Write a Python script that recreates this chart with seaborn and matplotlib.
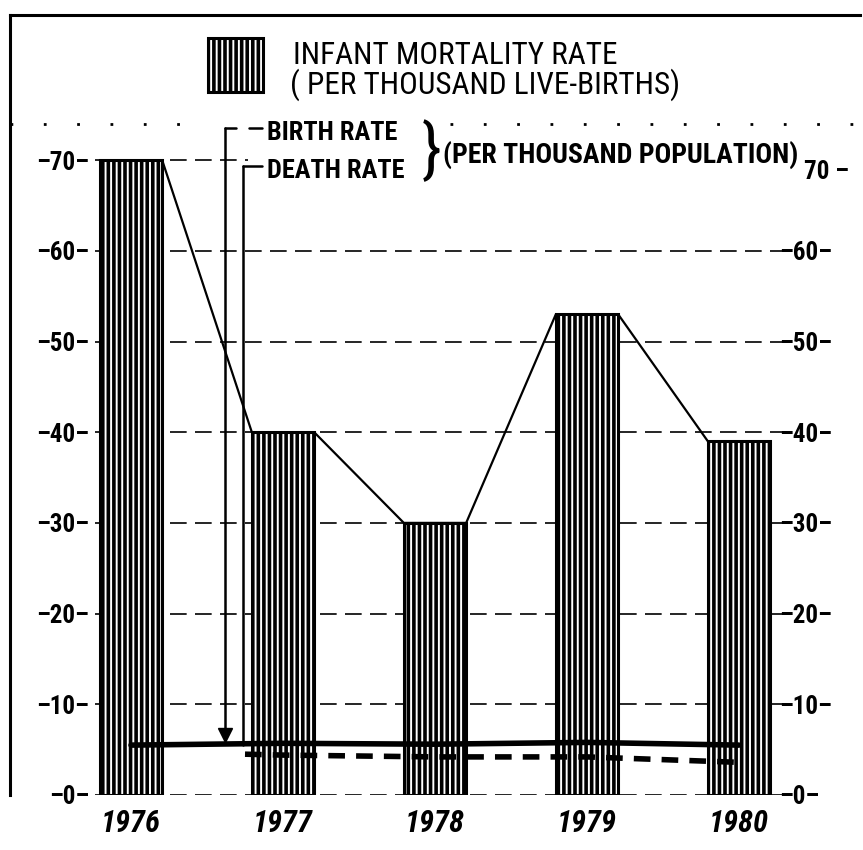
import numpy as np
import pandas as pd
import seaborn as sns
import matplotlib.pyplot as plt
from matplotlib.patches import Rectangle
from matplotlib.transforms import ScaledTranslation

# data
years = ["1976", "1977", "1978", "1979", "1980"]
infant_mortality = [70, 40, 30, 53, 39]
birth_rate = [5.5, 5.7, 5.6, 5.8, 5.5]
death_years = [0.75, 1, 2, 3, 4]
death_rate = [4.5, 4.4, 4.2, 4.2, 3.6]
ticks = [0, 10, 20, 30, 40, 50, 60, 70]

W, H = 863, 850
BAR_W = 0.41

sns.set_style("white")
plt.rcParams['font.family'] = ['Liberation Sans Narrow', 'DejaVu Sans Condensed',
                               'Roboto Condensed', 'DejaVu Sans']
plt.rcParams['text.color'] = 'black'
plt.rcParams['xtick.color'] = 'black'
plt.rcParams['ytick.color'] = 'black'
plt.rcParams['hatch.linewidth'] = 2.6


def px(x, y):
    """Figure pixel -> figure fraction."""
    return x / W, 1 - y / H


fig = plt.figure(figsize=(W / 100, H / 100), dpi=100)
ax = fig.add_axes([10 / W, (H - 795) / H, 850 / W, 780 / H])

df = pd.DataFrame({"year": years, "imr": infant_mortality})
sns.barplot(data=df, x="year", y="imr", ax=ax, width=BAR_W,
            color="white", edgecolor="black", linewidth=2.2, zorder=2)
for p in ax.patches:
    p.set_hatch("|||")

ax.set_xlim(-0.796, 4.796)
ax.set_ylim(0, 86)

# line joining bar tops
lx, ly = [], []
for i, v in enumerate(infant_mortality):
    lx += [i - BAR_W / 2, i + BAR_W / 2]
    ly += [v, v]
ax.plot(lx, ly, color="black", lw=1.6, zorder=3)

# birth / death rate
sns.lineplot(x=np.arange(len(years)), y=birth_rate, ax=ax, color="black",
             lw=4, zorder=4)
ax.plot(death_years, death_rate, color="black", lw=4, ls=(0, (3, 2)), zorder=4)

# dashed guide lines
for t in ticks[:-1]:
    ax.axhline(t, xmin=0.1, xmax=0.92, color="black", lw=1.2,
               ls=(0, (10, 5)), zorder=1)
ax.axhline(70, xmin=0.1, xmax=0.28, color="black", lw=1.2,
           ls=(0, (10, 5)), zorder=1)
ax.axhline(74, xmin=0.0, xmax=0.218, color="black", lw=2, ls=(0, (1, 11)))
ax.axhline(74, xmin=0.518, xmax=1.0, color="black", lw=2, ls=(0, (1, 11)))

# axes styling
for s in ["right", "bottom"]:
    ax.spines[s].set_visible(False)
for s in ["left", "top"]:
    ax.spines[s].set_linewidth(2.2)
    ax.spines[s].set_color("black")

ax.set_yticks(ticks, [f"–{t}–" for t in ticks])
ax.tick_params(axis="y", length=0, pad=-57, labelsize=18)
for lab in ax.get_yticklabels():
    lab.set_fontweight("bold")
ax.set_xlabel("")
ax.set_ylabel("")
ax.tick_params(axis="x", length=0, pad=10, labelsize=22)
for lab in ax.get_xticklabels():
    lab.set_fontweight("bold")
    lab.set_fontstyle("italic")

ax2 = ax.twinx()
ax2.set_ylim(ax.get_ylim())
ax2.set_yticks(ticks, [f"–{t}–" for t in ticks[:-1]] + [f"{ticks[-1]} –"])
ax2.tick_params(axis="y", length=0, pad=-58, labelsize=18)
for lab in ax2.get_yticklabels():
    lab.set_fontweight("bold")
top_lab = ax2.get_yticklabels()[-1]
top_lab.set_transform(top_lab.get_transform()
                      + ScaledTranslation(18 / 72, -7 / 72, fig.dpi_scale_trans))
for s in ax2.spines.values():
    s.set_visible(False)

# legend block
x0, y0 = px(208, 92)
rect = Rectangle((x0, y0), 55 / W, 54 / H, transform=fig.transFigure,
                 facecolor="white", edgecolor="black", lw=2.2, hatch="|||")
fig.add_artist(rect)
fig.text(*px(293, 55), "INFANT MORTALITY RATE", fontsize=22.5,
         va="center", ha="left")
fig.text(*px(290, 85), "( PER THOUSAND LIVE-BIRTHS)", fontsize=22.5,
         va="center", ha="left")

fig.text(*px(267, 133), "BIRTH RATE", fontsize=19, fontweight="bold",
         va="center", ha="left")
fig.text(*px(267, 171), "DEATH RATE", fontsize=19, fontweight="bold",
         va="center", ha="left")
fig.text(*px(422, 152), "}", fontsize=46, va="center", ha="left")
fig.text(*px(443, 155), "(PER THOUSAND POPULATION)", fontsize=20,
         fontweight="bold", va="center", ha="left")

# bracket pointers
for (xa, ya), (xb, yb) in [((225, 128), (225, 735)), ((225, 128), (236, 128)),
                           ((249, 128), (262, 128)),
                           ((243, 166), (243, 745)), ((243, 166), (262, 166))]:
    fig.add_artist(plt.Line2D([px(xa, ya)[0], px(xb, yb)[0]],
                              [px(xa, ya)[1], px(xb, yb)[1]],
                              transform=fig.transFigure, color="black", lw=1.8))
fig.add_artist(plt.Line2D([px(225, 735)[0]], [px(225, 735)[1]], marker="v",
                          markersize=10, color="black",
                          transform=fig.transFigure))

fig.savefig("out.png", dpi=100)
